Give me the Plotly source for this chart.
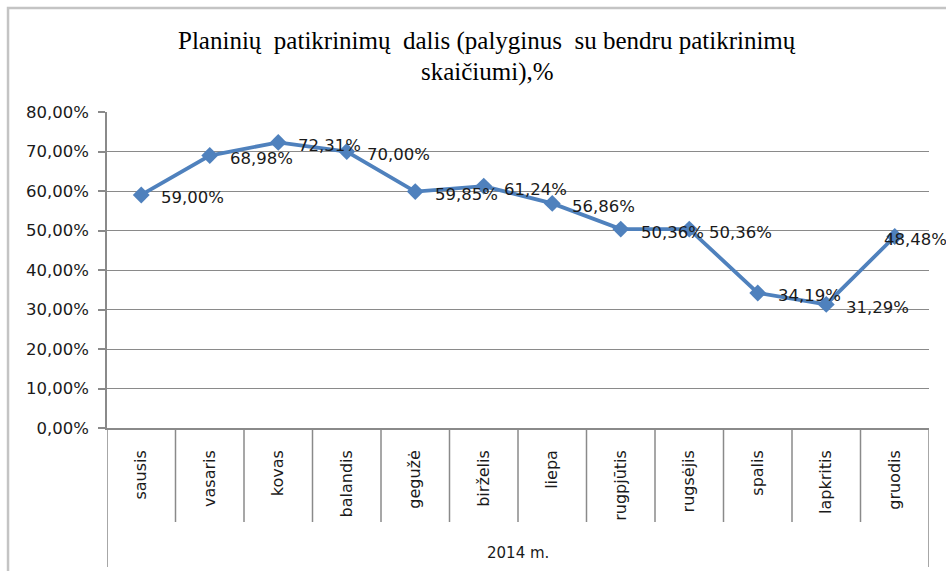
import plotly.graph_objects as go

months = ["sausis", "vasaris", "kovas", "balandis", "gegužė", "birželis",
          "liepa", "rugpjūtis", "rugsėjis", "spalis", "lapkritis", "gruodis"]
values = [59.00, 68.98, 72.31, 70.00, 59.85, 61.24, 56.86, 50.36, 50.36, 34.19, 31.29, 48.48]
year_label = "2014 m."
title_line1 = "Planinių  patikrinimų  dalis (palyginus  su bendru patikrinimų"
title_line2 = "skaičiumi),%"
y_ticks = [0, 10, 20, 30, 40, 50, 60, 70, 80]

LINE_BLUE = "#4F81BD"
GRID = "#8a8a8a"
TEXT = "#1a1a1a"
FONT = "DejaVu Sans"

def fmt(v):
    return f"{v:.2f}".replace(".", ",") + "%"

fig = go.Figure()
fig.add_trace(go.Scatter(
    x=months, y=values, mode="lines+markers",
    line=dict(color=LINE_BLUE, width=3.8),
    marker=dict(symbol="diamond", size=13, color=LINE_BLUE),
    hoverinfo="skip", showlegend=False,
))

annotations = []
n = len(months)
for i, (m, v) in enumerate(zip(months, values)):
    last = i == n - 1
    annotations.append(dict(
        x=m, y=v, xref="x", yref="y", text=fmt(v), showarrow=False,
        xanchor="left", yanchor="middle",
        xshift=-13 if last else 18, yshift=-3,
        font=dict(family=FONT, size=16.5, color=TEXT),
    ))

annotations.append(dict(
    x=0.4623, y=1.2247, xref="paper", yref="paper", text=title_line1,
    showarrow=False, xanchor="center", yanchor="middle",
    font=dict(family="Liberation Serif", size=25, color="#000000"),
))
annotations.append(dict(
    x=0.4623, y=1.1266, xref="paper", yref="paper", text=title_line2,
    showarrow=False, xanchor="center", yanchor="middle",
    font=dict(family="Liberation Serif", size=25, color="#000000"),
))
annotations.append(dict(
    x=0.5, y=-0.395, xref="paper", yref="paper", text=year_label,
    showarrow=False, xanchor="center", yanchor="middle",
    font=dict(family=FONT, size=15, color=TEXT),
))

shapes = []
for i in range(1, n):
    shapes.append(dict(type="line", xref="x", yref="paper",
                       x0=i - 0.5, x1=i - 0.5, y0=0, y1=-0.2975,
                       line=dict(color=GRID, width=1.5)))
for xb in (-0.5, n - 0.5):
    shapes.append(dict(type="line", xref="x", yref="paper",
                       x0=xb, x1=xb, y0=0, y1=-0.44,
                       line=dict(color=GRID, width=1.5)))
# chart border
shapes.append(dict(type="rect", xref="paper", yref="paper",
                   x0=-0.1204, x1=2, y0=-2, y1=1.329,
                   line=dict(color="#c4c4c4", width=2.5), layer="below"))

fig.update_layout(
    width=946, height=571,
    margin=dict(l=107, r=17, t=112, b=143, autoexpand=False),
    paper_bgcolor="white", plot_bgcolor="white",
    template="none",
    annotations=annotations, shapes=shapes,
    xaxis=dict(
        type="category", range=[-0.5, n - 0.5], showgrid=False,
        showline=True, linecolor=GRID, linewidth=1.5,
        ticks="", tickangle=-90, ticklabelstandoff=14,
        tickfont=dict(family=FONT, size=16, color=TEXT),
        automargin=False, fixedrange=True,
    ),
    yaxis=dict(
        range=[0, 80], tickvals=y_ticks, ticktext=[fmt(t) for t in y_ticks],
        showgrid=True, gridcolor=GRID, gridwidth=1.3,
        showline=True, linecolor=GRID, linewidth=1.5,
        ticks="outside", ticklen=7, tickcolor=GRID, tickwidth=1.5,
        ticklabelstandoff=6, zeroline=False,
        tickfont=dict(family=FONT, size=16.5, color=TEXT),
        automargin=False, fixedrange=True,
    ),
)

fig.write_html("out.html", config={"displayModeBar": False},
               post_script="document.body.style.margin='0px';")
